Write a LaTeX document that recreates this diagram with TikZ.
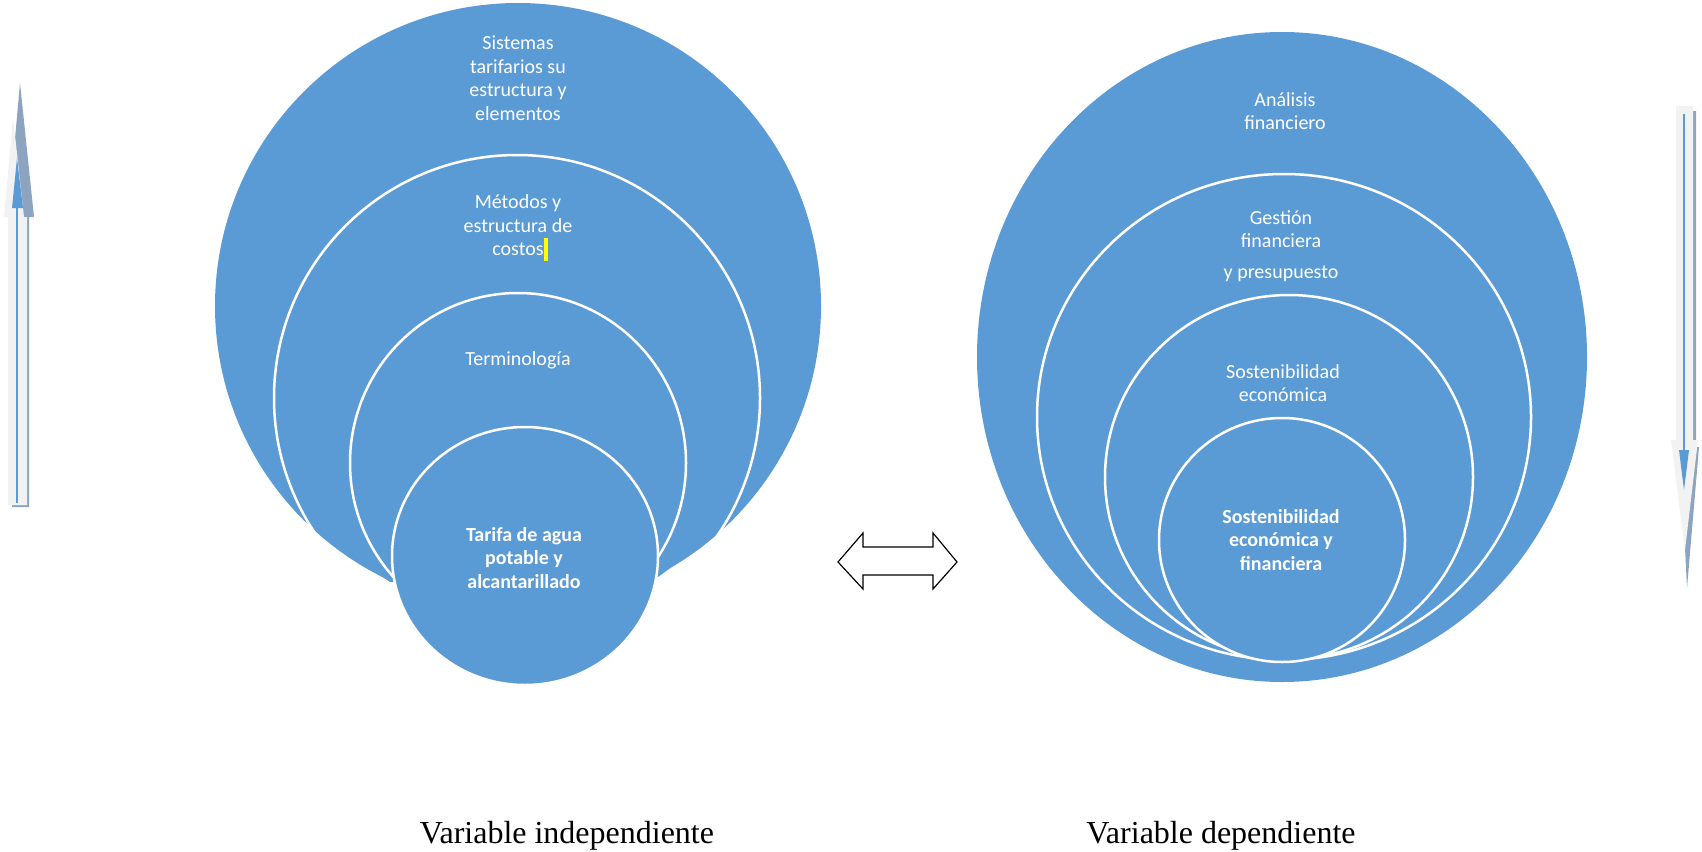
\documentclass[tikz,border=0pt]{standalone}
\usepackage{fontspec}
\setmainfont{Carlito}
\newfontfamily\serifface{Liberation Serif}
\definecolor{sblue}{HTML}{5B9BD5}
\definecolor{lgray}{HTML}{F2F2F2}
\definecolor{shad}{HTML}{8CA4C0}
\definecolor{hlyellow}{HTML}{FFFF00}
\tikzset{
  ring/.style={draw=white, line width=2.5pt},
  lbl/.style={text=white, align=center, font=\fontsize{20}{23.5}\selectfont, inner sep=0pt},
  blbl/.style={lbl, font=\fontsize{20}{23.5}\selectfont\bfseries},
  varlbl/.style={font=\serifface\fontsize{32}{36}\selectfont, anchor=base, inner sep=0pt},
  bluearrow/.style={draw=sblue, line width=1.2pt},
}
\begin{document}
\begin{tikzpicture}[x=1pt,y=-1pt]
\useasboundingbox (0,0) rectangle (1702,851);

% ---------- left diagram ----------
\fill[sblue] (518,306) circle (303);
\fill[sblue] (314,530) -- (390,582) -- (525,575) -- (658,577) -- (722,530) -- cycle;
\draw[ring] (517,398) circle (243);
\draw[ring] (518,463) ellipse (168 and 170);
\filldraw[sblue, ring] (525,556) ellipse (133 and 129);

\node[lbl] (sis) at (518,78) {Sistemas\\tarifarios su\\estructura y\\elementos};
\node[lbl] (met) at (518,228) {Métodos y\\estructura de\\costos\rlap{\textcolor{hlyellow}{\rule[-5pt]{4pt}{23pt}}}};
\node[lbl] (ter) at (518,360) {Terminología};
\node[blbl] (tar) at (524,558) {Tarifa de agua\\potable y\\alcantarillado};

% ---------- right diagram ----------
\fill[sblue] (1282,357) ellipse (305 and 325);
\filldraw[sblue, ring] (1284,417) ellipse (247 and 243);
\filldraw[sblue, ring] (1289,477) ellipse (184 and 182);
\filldraw[sblue, ring] (1282,540) ellipse (123 and 122);

\node[lbl] (ana) at (1285,111) {Análisis\\financiero};
\node[lbl] (ges) at (1281,229) {Gestión\\financiera};
\node[lbl] (pre) at (1281,274) {y presupuesto};
\node[lbl] (sos) at (1283,383) {Sostenibilidad\\económica};
\node[blbl] (sef) at (1281,540) {Sostenibilidad\\económica y\\financiera};

% ---------- double arrow ----------
\draw[black, fill=white, line width=1.2pt, line join=miter]
  (838,562) -- (863,533) -- (863,547) -- (933,547) -- (933,533) -- (957,562)
  -- (933,589) -- (933,575) -- (863,575) -- (863,589) -- cycle;

% ---------- left up arrow ----------
\fill[shad] (12,507) -- (29,507) -- (29,217) -- (34,217) -- (20,83) -- (8,217) -- (12,217) -- cycle;
\fill[lgray] (8,505) -- (27,505) -- (27,217) -- (24,217) -- (13,117) -- (4,217) -- (8,217) -- cycle;
\draw[bluearrow] (17,503) -- (17,205);
\fill[sblue] (12,208) -- (23,208) -- (17,158) -- cycle;

% ---------- right down arrow ----------
\fill[shad] (1680,111) -- (1696,111) -- (1696,447) -- (1699,447) -- (1687,588) -- (1680,447) -- cycle;
\fill[lgray] (1676,106) -- (1693,106) -- (1693,440) -- (1698,440) -- (1685,550) -- (1671,440) -- (1676,440) -- cycle;
\draw[bluearrow] (1684,114) -- (1684,452);
\fill[sblue] (1679,450) -- (1689,450) -- (1684,490) -- cycle;

% ---------- bottom labels ----------
\node[varlbl] (vi) at (567,843) {Variable independiente};
\node[varlbl] (vd) at (1221,843) {Variable dependiente};
\end{tikzpicture}
\end{document}
